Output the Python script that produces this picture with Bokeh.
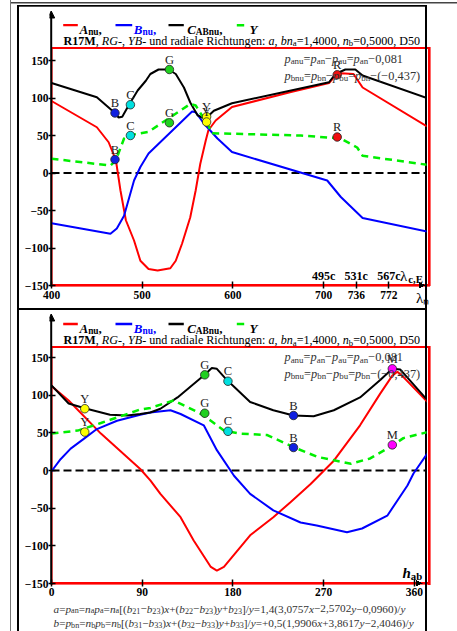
from bokeh.plotting import figure
from bokeh.layouts import column
from bokeh.models import Range1d, FixedTicker, Arrow, NormalHead, Label
from bokeh.embed import file_html
from bokeh.resources import INLINE
from bokeh.core.properties import value

SERIF = "Liberation Serif"

# ---------------- data: top panel (x = lambda_n axis position) ----------------
top_A_x = [400, 450, 463, 471, 476, 482, 491, 498, 507, 517, 531, 537, 544, 553, 559, 564, 570, 573, 581, 599, 664, 706, 713, 719, 733, 743, 814]
top_A_y = [96, 61, 41, 17, -23, -63, -90, -117, -128, -130, -127, -117, -94, -59, -23, 12, 43, 57, 70, 88, 108, 120, 130, 133, 132, 114, 62]
top_B_x = [400, 465, 472, 480, 491, 498, 507, 555, 559, 568, 583, 599, 704, 719, 743, 814]
top_B_y = [-67, -81, -74, -57, -10, 8, 26, 82, 81, 66, 46, 28, -10, -32, -60, -78]
top_C_x = [400, 450, 469, 474, 478, 485, 495, 504, 509, 518, 529, 537, 546, 553, 561, 566, 572, 579, 599, 706, 713, 724, 735, 743, 814]
top_C_y = [120, 101, 81, 74, 75, 90, 110, 123, 132, 138, 138, 132, 114, 94, 77, 74, 75, 83, 93, 121, 132, 138, 138, 130, 100]
top_Y_x = [400, 465, 471, 480, 485, 507, 553, 559, 573, 577, 675, 719, 737, 743, 814]
top_Y_y = [19, 10, 17, 46, 50, 55, 92, 90, 63, 53, 50, 46, 34, 23, 11]
top_pt_x = [470, 470, 487, 487, 530, 530, 571, 571, 715, 715]
top_pt_y = [80, 18, 91, 50, 138, 67, 75, 68, 131, 48]
top_pt_lab = ["B", "B", "C", "C", "G", "G", "Y", "Y", "R", "R"]
top_pt_col = ["#1020e0", "#1020e0", "#00e0e0", "#00e0e0", "#20d020", "#20d020", "#ffff00", "#ffff00", "#ee1010", "#ee1010"]

# ---------------- data: bottom panel (x = hue angle h_ab) ----------------
bot_A_x = [0, 17, 49, 88, 98, 108, 128, 141, 158, 164, 171, 197, 220, 237, 257, 280, 306, 326, 338, 343, 349, 373]
bot_A_y = [112, 93, 49, 2, -13, -31, -62, -93, -128, -133, -128, -86, -62, -42, -18, 13, 60, 102, 126, 131, 124, 91]
bot_B_x = [0, 9, 19, 32, 45, 65, 88, 98, 118, 128, 151, 164, 181, 197, 220, 247, 263, 293, 308, 333, 353, 359, 373]
bot_B_y = [-1, 15, 29, 42, 55, 66, 74, 77, 80, 75, 60, 27, -7, -31, -53, -69, -73, -82, -77, -60, -20, -4, 23]
bot_C_x = [0, 17, 32, 58, 75, 88, 98, 108, 125, 151, 159, 164, 174, 197, 220, 240, 260, 280, 306, 326, 338, 346, 373]
bot_C_y = [113, 89, 83, 74, 73, 75, 77, 82, 97, 126, 136, 135, 120, 91, 80, 73, 72, 80, 97, 120, 135, 134, 93]
bot_Y_x = [0, 26, 49, 88, 98, 121, 146, 158, 171, 187, 214, 240, 264, 297, 316, 338, 349, 373]
bot_Y_y = [49, 53, 63, 81, 83, 93, 77, 66, 53, 49, 47, 31, 18, 9, 16, 33, 43, 51]
bot_pt_x = [33, 33, 152, 152, 175, 175, 240, 240, 338, 338]
bot_pt_y = [82, 51, 127, 76, 118.5, 52, 73, 30.5, 135, 34]
bot_pt_lab = ["Y", "Y", "G", "G", "C", "C", "B", "B", "M", "M"]
bot_pt_col = ["#ffff00", "#ffff00", "#20d020", "#20d020", "#00e0e0", "#00e0e0", "#1020e0", "#1020e0", "#ff00ff", "#ff00ff"]

# ---------------- ticks ----------------
yticks = [-150, -100, -50, 0, 50, 100, 150]
ylabels = {t: str(t).replace("-", "\u2212") for t in yticks}
top_xticks = [400, 500, 600, 700, 736, 772]
top_cticks = [700, 736, 772]
top_clabels = ["495c", "531c", "567c"]
bot_xticks = [0, 90, 180, 270, 360]

# ---------------- geometry (absolute page pixels) ----------------
W = 457
H1, H2, H3 = 309, 291, 31
FL, FR = 49, 426
B1, B2 = 287, 585          # frame bottoms (axis lines drawn 2px higher)
k1x, k1y = 0.907, 0.75
k2x, k2y = 1.00833, 0.75333


def X1(px): return 400 + (px - 51) / k1x
def Y1(py): return -150 + (285 - py) / k1y
def X2(px): return (px - 51) / k2x
def Y2(py): return -150 + (583 - py) / k2y
def X3(px): return px
def Y3(py): return py


# ---------------- text metrics (Times-compatible) ----------------
W_REG = {' ': 250, '(': 333, ')': 333, '+': 564, ',': 250, '-': 333, '.': 250, '/': 278, ':': 278, '=': 564,
         '[': 333, ']': 333, '\u2212': 564, 'a': 444, 'b': 500, 'c': 444, 'd': 500, 'e': 444, 'f': 333, 'g': 500,
         'h': 500, 'i': 278, 'j': 278, 'k': 500, 'l': 278, 'm': 778, 'n': 500, 'o': 500, 'p': 500, 'q': 500,
         'r': 333, 's': 389, 't': 278, 'u': 500, 'v': 500, 'w': 722, 'x': 500, 'y': 500, 'z': 444, 'A': 722,
         'B': 667, 'C': 667, 'D': 722, 'E': 611, 'G': 722, 'M': 889, 'R': 667, 'Y': 722, '\u03bb': 550}
W_ITA = {'a': 500, 'b': 500, 'n': 500, 'p': 500, 'x': 444, 'y': 444, 'h': 500, 'A': 611, 'B': 611, 'C': 667,
         'G': 722, 'R': 611, 'Y': 556}
W_BOLD = {'R': 722, 'M': 944, 'n': 556, 'u': 556, 'a': 500, 'b': 556, 'c': 444, 'E': 667, 'A': 722, 'B': 667,
          'C': 722}
W_BI = {'A': 667, 'B': 667, 'C': 667, 'Y': 611, 'h': 556, 'n': 556, 'u': 556}
TABLES = {"normal": W_REG, "italic": W_ITA, "bold": W_BOLD, "bold italic": W_BI}


def cw(ch, style):
    t = TABLES[style]
    if ch in t:
        return t[ch]
    if ch.isdigit():
        return 500
    return W_REG.get(ch, 500)


SUB_SCALE, SUB_DROP = 0.72, 0.22


def natural(segs):
    w = 0.0
    for sg in segs:
        s = SUB_SCALE if sg[2] else 1.0
        w += sum(cw(c, sg[1]) for c in sg[0]) * s / 1000.0
    return w


def rich(p, X, Y, x0, base, segs, size, color="black"):
    x = x0
    for sg in segs:
        text, style, sub = sg[0], sg[1], sg[2]
        col = sg[3] if len(sg) > 3 else color
        s = size * SUB_SCALE if sub else size
        b = base + (size * SUB_DROP if sub else 0)
        stripped = text.lstrip(" ")
        x += (len(text) - len(stripped)) * cw(" ", style) * s / 1000.0
        if stripped.strip():
            p.add_layout(Label(x=X(x), y=Y(b), text=stripped.rstrip(" "), text_font=SERIF,
                               text_font_size=f"{s:.2f}px", text_font_style=style, text_color=col,
                               text_baseline="alphabetic", text_align="left"))
        x += sum(cw(c, style) for c in stripped) * s / 1000.0
    return x


def seg(p, X, Y, x0, y0, x1, y1, color="black", width=2.0):
    p.add_layout(Arrow(start=None, end=None, x_start=X(x0), y_start=Y(y0), x_end=X(x1), y_end=Y(y1),
                       line_color=color, line_width=width))


def make_fig(h, X, Y, top_abs, bot_abs, xticks, xstandoff):
    p = figure(width=W, height=h, x_range=Range1d(X(FL), X(FR)), y_range=Range1d(Y(bot_abs), Y(top_abs)),
               output_backend="svg", toolbar_location=None, title=None,
               min_border_left=FL, min_border_right=W - FR, min_border_top=0,
               min_border_bottom=top_abs + h - bot_abs)
    p.grid.visible = False
    p.outline_line_color = None
    p.border_fill_color = None
    p.background_fill_color = None
    for ax in (p.xaxis[0], p.yaxis[0]):
        ax.axis_line_color = None
        ax.major_tick_line_color = "black"
        ax.major_tick_line_width = 1.5
        ax.minor_tick_line_color = None
        ax.major_tick_in = 6
        ax.major_tick_out = 1
        ax.major_label_text_font = SERIF
        ax.major_label_text_font_style = "bold"
        ax.major_label_text_font_size = "11.5px"
        ax.major_label_text_color = "black"
    p.yaxis.ticker = FixedTicker(ticks=yticks)
    p.yaxis.major_label_overrides = ylabels
    p.yaxis.major_label_standoff = 0
    p.xaxis.ticker = FixedTicker(ticks=xticks)
    p.xaxis.major_label_standoff = xstandoff
    return p


def y_arrow(p, X, Y, y_low, y_tip):
    p.add_layout(Arrow(end=NormalHead(size=7, fill_color="black", line_color="black", line_width=1),
                       x_start=X(50.7), y_start=Y(y_low), x_end=X(50.7), y_end=Y(y_tip),
                       line_color="black", line_width=2))


def curves(p, ax_, ay_, bx_, by_, cx_, cy_, yx_, yy_, px_, py_, plab, pcol):
    p.line([ax_[0], ax_[-1]], [0, 0], line_color="black", line_width=2, line_dash="8 4")
    p.line(ax_, ay_, line_color="#ff0000", line_width=2)
    p.line(bx_, by_, line_color="#0000ff", line_width=2)
    p.line(cx_, cy_, line_color="black", line_width=2)
    p.line(yx_, yy_, line_color="#00ee00", line_width=2.5, line_dash="7 5")
    p.scatter(px_, py_, size=8.5, fill_color=pcol, line_color="#222222", line_width=0.8)
    p.text(px_, py_, text=plab, text_font=value(SERIF), text_font_size="12.5px", text_align="center",
           text_baseline="middle", y_offset=-10, text_color="#222222")


def headers(p, X, Y, line_y, base, sub_base, p1y, p2y):
    seg(p, X, Y, 62.7, line_y, 77.3, line_y, "#ff0000", 2.3)
    rich(p, X, Y, 79, base, [("A", "bold italic", 0), ("nu", "bold", 1), (",", "bold", 0)], 13)
    seg(p, X, Y, 115, line_y, 131.7, line_y, "#0000ff", 2.3)
    rich(p, X, Y, 133.3, base, [("B", "bold italic", 0), ("nu", "bold", 1), (",", "bold", 0)], 13, "#0000ff")
    seg(p, X, Y, 168, line_y, 183.3, line_y, "black", 2.3)
    rich(p, X, Y, 186.7, base, [("C", "bold italic", 0), ("ABnu", "bold", 1), (",", "bold", 0)], 13)
    seg(p, X, Y, 236.3, line_y, 243.7, line_y, "#00ee00", 2.5)
    rich(p, X, Y, 249, base, [("Y", "bold italic", 0)], 13)
    sub = [("R17M", "bold", 0), (", ", "normal", 0), ("RG-", "italic", 0), (", ", "normal", 0),
           ("YB-", "italic", 0), (" und radiale Richtungen: ", "normal", 0), ("a", "italic", 0),
           (", ", "normal", 0), ("bn", "italic", 0), ("a", "normal", 1), ("=1,4000, ", "normal", 0),
           ("n", "italic", 0), ("b", "normal", 1), ("=0,5000, D50", "normal", 0)]
    rich(p, X, Y, 63, sub_base, sub, (419.7 - 63) / natural(sub))
    l1 = [("p", "italic", 0), ("anu", "normal", 1), ("=", "normal", 0), ("p", "italic", 0), ("an", "normal", 1),
          ("\u2212", "normal", 0), ("p", "italic", 0), ("au", "normal", 1), ("=", "normal", 0), ("p", "italic", 0),
          ("an", "normal", 1), ("\u22120,081", "normal", 0)]
    l2 = [("p", "italic", 0), ("bnu", "normal", 1), ("=", "normal", 0), ("p", "italic", 0), ("bn", "normal", 1),
          ("\u2212", "normal", 0), ("p", "italic", 0), ("bu", "normal", 1), ("=", "normal", 0), ("p", "italic", 0),
          ("bn", "normal", 1), ("\u2212(\u22120,437)", "normal", 0)]
    sz = (419.7 - 284) / natural(l2)
    rich(p, X, Y, 284, p1y, l1, sz, "#333333")
    rich(p, X, Y, 284, p2y, l2, sz, "#333333")


# ================= top figure =================
p1 = make_fig(H1, X1, Y1, 0, B1, top_xticks, 2)
curves(p1, top_A_x, top_A_y, top_B_x, top_B_y, top_C_x, top_C_y, top_Y_x, top_Y_y,
       top_pt_x, top_pt_y, top_pt_lab, top_pt_col)
y_arrow(p1, X1, Y1, 286, 10.5)
headers(p1, X1, Y1, 24.7, 29, 40, 58, 75)
p1.text(top_cticks, [Y1(275.5)] * len(top_cticks), text=top_clabels, text_font=value(SERIF),
        text_font_size="12px", text_font_style="bold", text_align="center", text_baseline="alphabetic",
        text_color="black")
rich(p1, X1, Y1, 399.5, 275.5, [("\u03bb", "normal", 0), ("c,E", "bold", 1)], 15)

xa = p1.xaxis[0]
if "axis_label_align" in xa.properties():
    xa.axis_label = "\u03bb\u2099\u00a0\u00a0"
    xa.axis_label_align = "end"
    xa.axis_label_standoff = -12
    xa.axis_label_text_font = SERIF
    xa.axis_label_text_font_style = "normal"
    xa.axis_label_text_font_size = "15px"
    xa.axis_label_text_color = "black"
else:
    lam_pos = X1(417)
    xa.ticker = FixedTicker(ticks=top_xticks + [lam_pos])
    xa.major_label_overrides = {lam_pos: "\u03bb\u2099"}

# ================= bottom figure =================
p2 = make_fig(H2, X2, Y2, H1, B2, bot_xticks, 1)
curves(p2, bot_A_x, bot_A_y, bot_B_x, bot_B_y, bot_C_x, bot_C_y, bot_Y_x, bot_Y_y,
       bot_pt_x, bot_pt_y, bot_pt_lab, bot_pt_col)
y_arrow(p2, X2, Y2, 584, 313.5)
headers(p2, X2, Y2, 323.5, 328, 339.5, 356.5, 373)
rich(p2, X2, Y2, 402, 572, [("h", "bold italic", 0), ("ab", "bold", 1)], 15)

# ================= formula strip (frame aligned with the panels above; pixel units) =================
p3 = figure(width=W, height=H3, x_range=Range1d(FL, FR), y_range=Range1d(H1 + H2 + H3, H1 + H2),
            output_backend="svg", toolbar_location=None, title=None,
            min_border_left=FL, min_border_right=W - FR, min_border_top=0, min_border_bottom=0,
            x_axis_type=None, y_axis_type=None)
p3.grid.visible = False
p3.outline_line_color = None
p3.border_fill_color = None
p3.background_fill_color = None

f1 = [("a", "italic", 0), ("=", "normal", 0), ("p", "italic", 0), ("an", "normal", 1), ("=", "normal", 0),
      ("n", "italic", 0), ("a", "normal", 1), ("p", "italic", 0), ("a", "normal", 1), ("=", "normal", 0),
      ("n", "italic", 0), ("a", "normal", 1), ("[(", "normal", 0), ("b", "italic", 0), ("21", "normal", 1),
      ("\u2212", "normal", 0), ("b", "italic", 0), ("23", "normal", 1), (")", "normal", 0), ("x", "italic", 0),
      ("+(", "normal", 0), ("b", "italic", 0), ("22", "normal", 1), ("\u2212", "normal", 0), ("b", "italic", 0),
      ("23", "normal", 1), (")", "normal", 0), ("y", "italic", 0), ("+", "normal", 0), ("b", "italic", 0),
      ("23", "normal", 1), ("]/", "normal", 0), ("y", "italic", 0), ("=1,4(3,0757", "normal", 0),
      ("x", "italic", 0), ("\u22122,5702", "normal", 0), ("y", "italic", 0), ("\u22120,0960)/", "normal", 0),
      ("y", "italic", 0)]
f2 = [("b", "italic", 0), ("=", "normal", 0), ("p", "italic", 0), ("bn", "normal", 1), ("=", "normal", 0),
      ("n", "italic", 0), ("b", "normal", 1), ("p", "italic", 0), ("b", "normal", 1), ("=", "normal", 0),
      ("n", "italic", 0), ("b", "normal", 1), ("[(", "normal", 0), ("b", "italic", 0), ("31", "normal", 1),
      ("\u2212", "normal", 0), ("b", "italic", 0), ("33", "normal", 1), (")", "normal", 0), ("x", "italic", 0),
      ("+(", "normal", 0), ("b", "italic", 0), ("32", "normal", 1), ("\u2212", "normal", 0), ("b", "italic", 0),
      ("33", "normal", 1), (")", "normal", 0), ("y", "italic", 0), ("+", "normal", 0), ("b", "italic", 0),
      ("33", "normal", 1), ("]/", "normal", 0), ("y", "italic", 0), ("=+0,5(1,9906", "normal", 0),
      ("x", "italic", 0), ("+3,8617", "normal", 0), ("y", "italic", 0), ("\u22122,4046)/", "normal", 0),
      ("y", "italic", 0)]
fs = (405 - 53) / natural(f1)
rich(p3, X3, Y3, 53, 608, f1, fs, "#333333")
rich(p3, X3, Y3, 53, 622.5, f2, fs, "#333333")

# ================= page decoration (frame lines, red boxes, x-arrow heads) =================
def css_box(x, y, w, h, c):
    return f"linear-gradient({c},{c}) {x}px {y}px / {w}px {h}px no-repeat"


def css_tri(x, y, w, h, direction):
    return f"linear-gradient({direction}, #000 50%, transparent 50%) {x}px {y}px / {w}px {h}px no-repeat"


layers = [
    css_tri(418.5, 281.5, 7, 3.5, "to top right"), css_tri(418.5, 285, 7, 3.5, "to bottom right"),
    css_tri(415.5, 579.8, 7, 3.5, "to top right"), css_tri(415.5, 583.3, 7, 3.5, "to bottom right"),
    css_box(10, 0, 1.2, 631, "#777777"), css_box(10, 1.8, 447, 1.5, "#444444"),
    css_box(17.2, 5, 2, 626, "#000000"), css_box(17.2, 5, 410, 1.7, "#000000"),
    css_box(425.3, 5, 2, 626, "#000000"), css_box(17.2, 308.3, 410, 2, "#000000"),
    css_box(51.3, 47, 379, 2.2, "#ff0000"), css_box(51.3, 47, 1.6, 239, "#ff0000"),
    css_box(427.7, 47, 2.6, 239.3, "#ff0000"), css_box(51.3, 283.6, 379, 2.6, "#ff0000"),
    css_box(51.3, 345.6, 379, 2.2, "#ff0000"), css_box(51.3, 345.6, 1.6, 239, "#ff0000"),
    css_box(427.7, 345.6, 2.6, 239.4, "#ff0000"), css_box(51.3, 582.3, 379, 2.6, "#ff0000"),
]

layout = column(p1, p2, p3, styles={"background": ", ".join(layers)})
open("out.html", "w").write(file_html(layout, INLINE))
